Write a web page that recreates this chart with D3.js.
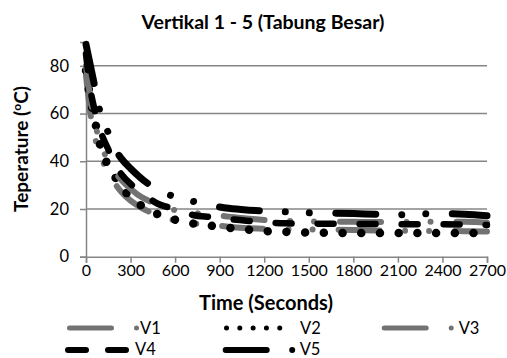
<!DOCTYPE html>
<html>
<head>
<meta charset="utf-8">
<script src="https://cdn.jsdelivr.net/npm/d3@7"></script>
<style>
  body { margin: 0; background: #fff; }
  svg { display: block; font-family: Lato, "Open Sans", sans-serif; }
</style>
</head>
<body>
<div id="chart"></div>
<script>
// time in seconds, shared by all series
const times = [0, 30, 60, 90, 120, 150, 180, 240, 300, 360, 420, 480, 540, 600, 720, 840, 960, 1080, 1200, 1350, 1500, 1650, 1800, 1950, 2100, 2250, 2400, 2550, 2700];

const v1 = [76, 60, 50, 44, 39, 35, 32, 27, 23.5, 21, 19, 17.4, 16.2, 15.2, 14, 13.3, 12.6, 12, 11.7, 11.5, 11.4, 11.3, 11.2, 11, 10.9, 10.8, 10.8, 10.7, 10.6];
const v2 = [78, 66, 57, 48, 42.5, 38, 35, 29, 25, 22, 19.6, 17.9, 16.6, 15.5, 13.9, 13, 12.1, 11.4, 10.8, 10.4, 10.1, 10, 9.9, 9.9, 9.9, 9.9, 9.9, 9.9, 9.9];
const v3 = [80, 66, 56, 49, 44, 40, 37, 32, 28.5, 25.5, 23.5, 21.8, 20.5, 19.5, 18.4, 17.6, 16.8, 16, 15.4, 15, 14.8, 14.7, 14.6, 14.5, 14.5, 14.6, 14.6, 14.6, 14.2];
const v4 = [85, 70, 61, 54, 49, 45, 40, 34.5, 30.5, 27.3, 24.7, 22.3, 21, 19.8, 17.5, 16.6, 15.8, 15.1, 14.4, 14, 13.9, 13.8, 13.7, 13.7, 13.6, 13.6, 13.6, 13.5, 13.3];
const v5 = [89, 80, 71, 62, 56, 52, 47, 41, 37, 33.5, 30.5, 28.2, 26.5, 25, 23.2, 21.5, 20.3, 19.6, 19.2, 18.8, 18.4, 18.3, 18.1, 17.8, 17.6, 18, 18, 17.8, 17.2];

const seriesNames = ['V1', 'V2', 'V3', 'V4', 'V5'];
const seriesValues = [v1, v2, v3, v4, v5];

const xTicks = [0, 300, 600, 900, 1200, 1500, 1800, 2100, 2400, 2700];
const yTicks = [0, 20, 40, 60, 80];

const width = 507, height = 358;
const margin = { top: 42, right: 20, bottom: 101.3, left: 86 };

const gray = '#737373';
const axisColor = '#868686';

// dash looks, excel style (long dash dot dot, round dot, dash)
function lgDashDotDot(w) {
  return [47 - w, 22.5 + w / 2, 0.01, 24, 0.01, 23 + w / 2].join(',');
}
const styles = {
  V1: { color: gray, w: 6, dash: lgDashDotDot(6), lw: 5, ldash: lgDashDotDot(5), len: 70 },
  V2: { color: '#000', w: 8.5, dash: '0.01,18.7', lw: 5, ldash: '0.01,13.3', len: 57 },
  V3: { color: gray, w: 6, dash: lgDashDotDot(6), lw: 5, ldash: lgDashDotDot(5), len: 70 },
  V4: { color: '#000', w: 6.5, dash: '16,26', lw: 6, ldash: '18,22', len: 62 },
  V5: { color: '#000', w: 7, dash: lgDashDotDot(7), lw: 6, ldash: lgDashDotDot(6), len: 70 }
};

const svg = d3.select('#chart')
  .append('svg')
  .attr('width', width)
  .attr('height', height);

const x = d3.scaleLinear().domain([0, 2700]).range([margin.left, width - margin.right]);
const y = d3.scaleLinear().domain([0, 90]).range([height - margin.bottom, margin.top]);

// title
svg.append('text')
  .attr('x', 263)
  .attr('y', 29)
  .attr('text-anchor', 'middle')
  .attr('font-size', '19.5px')
  .attr('font-weight', 'bold')
  .text('Vertikal 1 - 5 (Tabung Besar)');

// gridlines
svg.append('g')
  .selectAll('line')
  .data(yTicks.filter(d => d > 0))
  .enter()
  .append('line')
  .attr('x1', margin.left)
  .attr('x2', width - margin.right)
  .attr('y1', d => y(d))
  .attr('y2', d => y(d))
  .attr('stroke', axisColor)
  .attr('stroke-width', 1.5);

// y axis
const yAxis = svg.append('g')
  .attr('transform', `translate(${margin.left},0)`)
  .call(d3.axisLeft(y).tickValues(yTicks).tickSize(6).tickPadding(11));
yAxis.select('.domain').attr('stroke', axisColor).attr('stroke-width', 1.5);
yAxis.selectAll('.tick line').attr('stroke', axisColor).attr('stroke-width', 1.5);
yAxis.selectAll('.tick text').attr('font-size', '16.5px').attr('fill', '#000').attr('font-family', 'Lato');

// x axis
const xAxis = svg.append('g')
  .attr('transform', `translate(0,${y(0)})`)
  .call(d3.axisBottom(x).tickValues(xTicks).tickFormat(d3.format('d')).tickSize(6).tickPadding(2));
xAxis.select('.domain').attr('stroke', axisColor).attr('stroke-width', 1.5);
xAxis.selectAll('.tick line').attr('stroke', axisColor).attr('stroke-width', 1.5);
xAxis.selectAll('.tick text').attr('font-size', '16px').attr('fill', '#000').attr('font-family', 'Lato');

// axis titles
svg.append('text')
  .attr('x', 266)
  .attr('y', 310)
  .attr('text-anchor', 'middle')
  .attr('font-size', '20px')
  .attr('font-weight', 'bold')
  .text('Time (Seconds)');

const yTitle = svg.append('text')
  .attr('transform', 'translate(28,149) rotate(-90)')
  .attr('text-anchor', 'middle')
  .attr('font-size', '19px')
  .attr('font-weight', 'bold');
yTitle.append('tspan').text('Teperature (');
yTitle.append('tspan').attr('font-size', '12px').attr('dy', -7).text('o');
yTitle.append('tspan').attr('dy', 7).text('C)');

// lines
const line = d3.line()
  .x((d, i) => x(times[i]))
  .y(d => y(d))
  .curve(d3.curveMonotoneX);

svg.append('g')
  .selectAll('path')
  .data(seriesNames)
  .enter()
  .append('path')
  .attr('d', (d, i) => line(seriesValues[i]))
  .attr('fill', 'none')
  .attr('stroke', d => styles[d].color)
  .attr('stroke-width', d => styles[d].w)
  .attr('stroke-dasharray', d => styles[d].dash)
  .attr('stroke-linecap', 'round')
  .attr('stroke-linejoin', 'round');

// legend
const legendPos = [
  { x: 67, y: 328, tx: 73 }, { x: 224, y: 328, tx: 76 }, { x: 381.7, y: 328, tx: 77 },
  { x: 65, y: 350, tx: 70 }, { x: 222.7, y: 350, tx: 77 }
];
const legend = svg.append('g')
  .selectAll('g')
  .data(seriesNames)
  .enter()
  .append('g')
  .attr('transform', (d, i) => `translate(${legendPos[i].x},${legendPos[i].y})`);

legend.append('line')
  .attr('x1', d => styles[d].lw / 2)
  .attr('x2', d => styles[d].len)
  .attr('y1', 0)
  .attr('y2', 0)
  .attr('stroke', d => styles[d].color)
  .attr('stroke-width', d => styles[d].lw)
  .attr('stroke-dasharray', d => styles[d].ldash)
  .attr('stroke-linecap', 'round');

legend.append('text')
  .attr('x', (d, i) => legendPos[i].tx)
  .attr('y', (d, i) => i < 3 ? 6 : 4.5)
  .attr('font-size', '16.5px')
  .text(d => d);
</script>
</body>
</html>
